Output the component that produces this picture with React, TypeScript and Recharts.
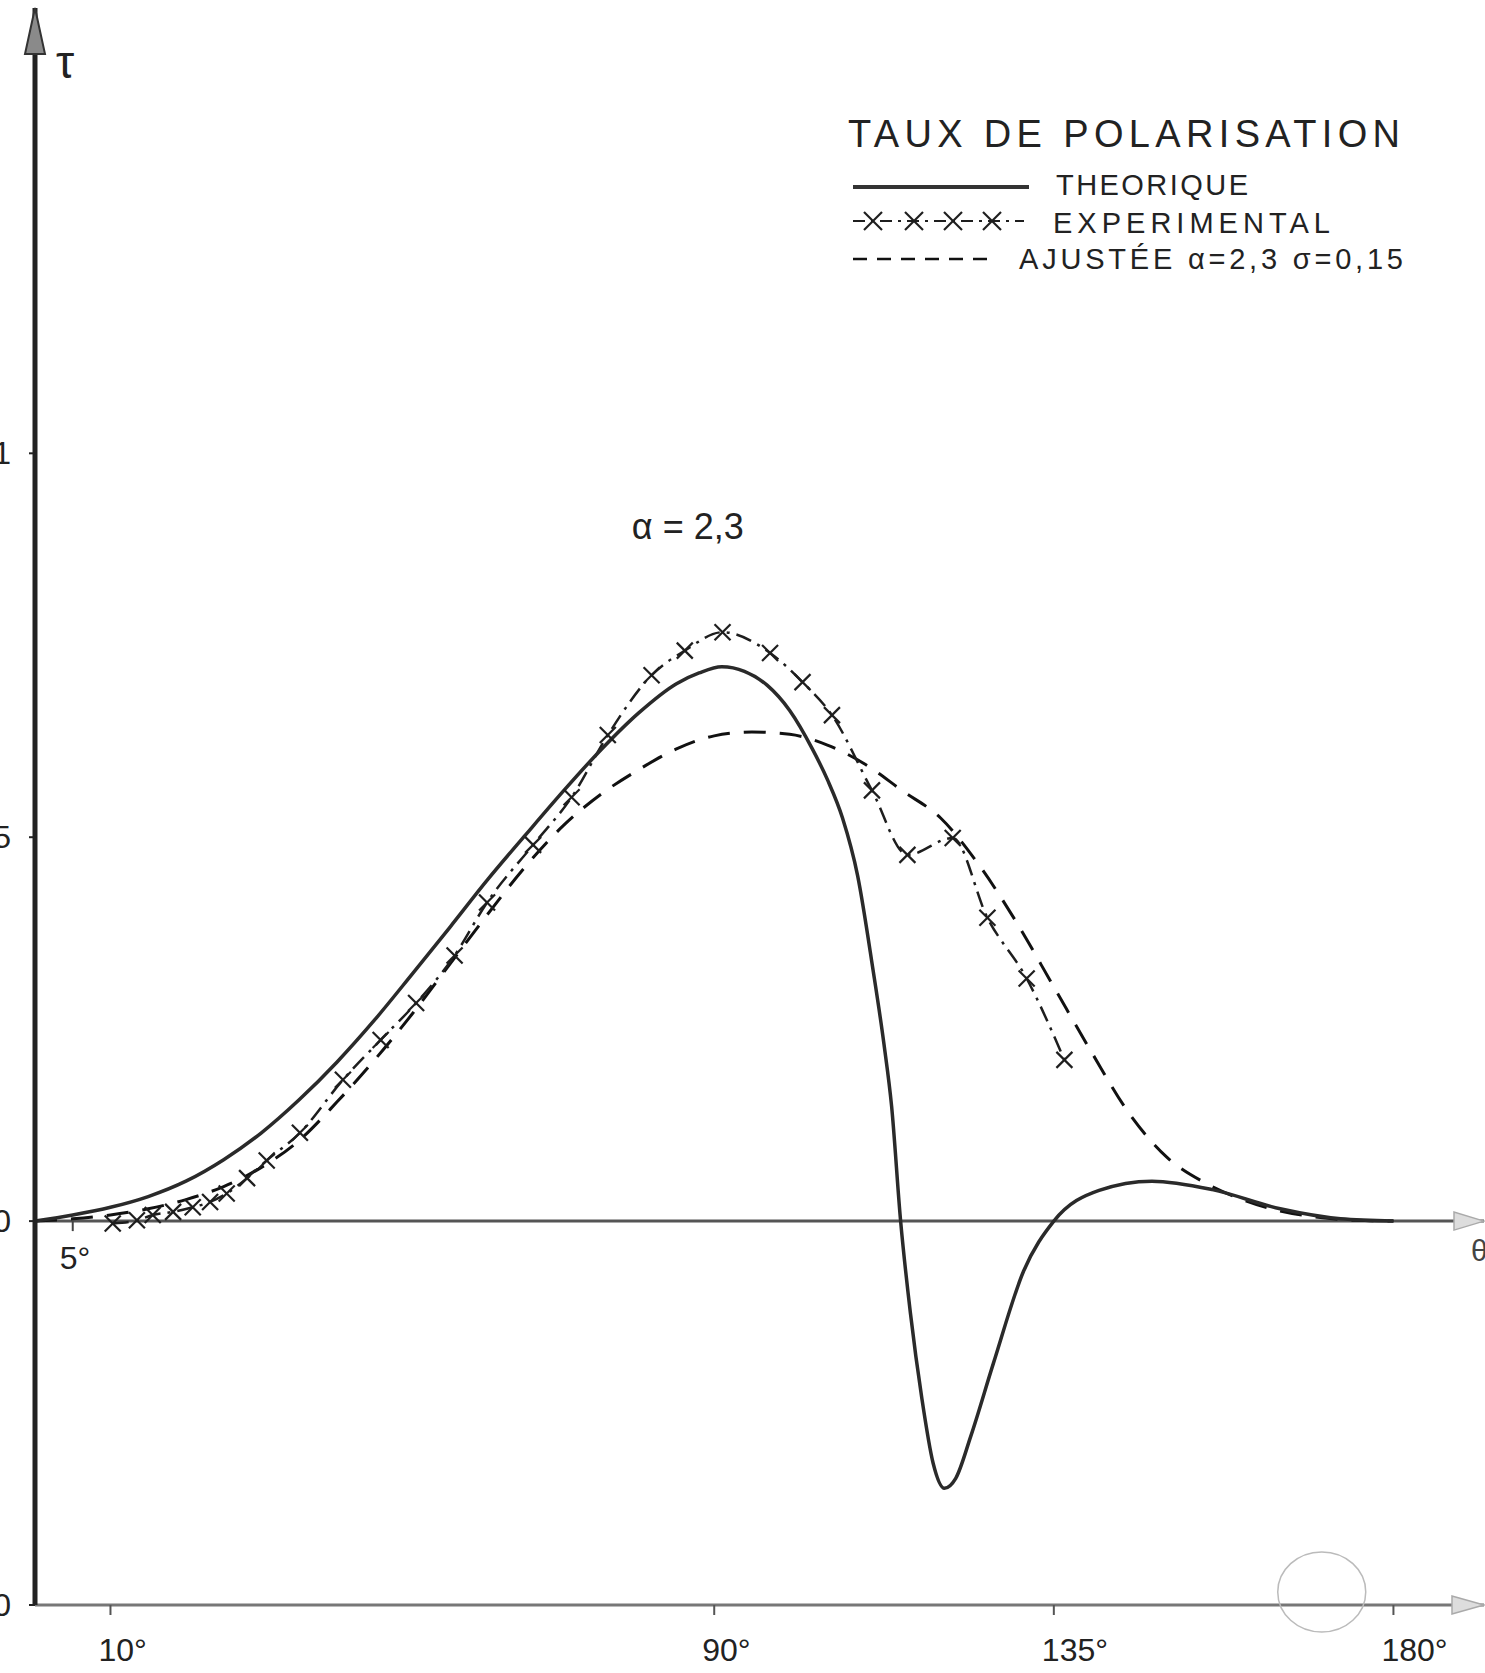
import React from "react";
import {
  ComposedChart,
  Line,
  XAxis,
  YAxis,
  ReferenceLine,
  ReferenceDot,
  Legend,
} from "recharts";

const FONT = "'Liberation Sans', Arial, sans-serif";
const INK = "#1e1e1e";

// axes
const thetaTicks = [10, 90, 135, 180];
const tauTicks = [-0.5, 0, 0.5, 1];
const tauTickLabels = ["0", "0", "0,5", "1"];

// courbe théorique (trait plein)
const theoTheta = [
  0, 5, 10, 15, 20, 25, 30, 35, 40, 45, 50, 55, 60, 65, 70, 75, 80, 85, 88, 91,
  94, 97, 100, 103, 105, 107, 109, 111, 112.5, 113.5, 114.7, 116, 117.5, 119,
  120.5, 122, 124, 127, 131, 135, 141, 148, 156, 165, 173, 180,
];
const theoTau = [
  0, 0.008, 0.018, 0.032, 0.052, 0.08, 0.115, 0.158, 0.207, 0.262, 0.322, 0.383,
  0.445, 0.503, 0.56, 0.614, 0.662, 0.7, 0.714, 0.722, 0.716, 0.698, 0.665, 0.615,
  0.575, 0.525, 0.45, 0.33, 0.23, 0.15, 0, -0.12, -0.23, -0.315, -0.348, -0.335,
  -0.28, -0.185, -0.065, 0, 0.04, 0.052, 0.041, 0.016, 0.003, 0,
];

// points expérimentaux (croix, trait mixte)
const expTheta = [
  10.3, 13.5, 15.6, 18.3, 20.9, 23.2, 25.4, 28.1, 30.7, 35.1, 40.8, 45.8, 50.5,
  55.6, 59.9, 66.0, 71.1, 75.9, 81.7, 86.1, 91.1, 97.4, 101.7, 105.6, 110.9,
  115.6, 121.6, 126.2, 131.4, 136.4,
];
const expTau = [
  -0.003, 0.001, 0.008, 0.012, 0.018, 0.025, 0.036, 0.056, 0.079, 0.115, 0.184,
  0.236, 0.284, 0.346, 0.415, 0.49, 0.552, 0.633, 0.711, 0.743, 0.767, 0.74,
  0.702, 0.659, 0.561, 0.477, 0.499, 0.395, 0.316, 0.21,
];

// courbe ajustée (tirets)
const fitTheta = [
  0, 5, 10, 15, 20, 25, 30, 35, 40, 45, 50, 55, 60, 65, 70, 75, 80, 85, 90, 95,
  100, 105, 110, 115, 120, 125, 130, 135, 140, 145, 150, 155, 160, 165, 170, 175,
  180,
];
const fitTau = [
  0, 0.003, 0.008, 0.016, 0.028, 0.045, 0.07, 0.105, 0.155, 0.21, 0.27, 0.335,
  0.4, 0.462, 0.515, 0.556, 0.588, 0.615, 0.632, 0.637, 0.634, 0.62, 0.595, 0.56,
  0.525, 0.465, 0.39, 0.305, 0.22, 0.14, 0.083, 0.05, 0.028, 0.013, 0.005, 0.001,
  0,
];

const legendTitle = "TAUX DE POLARISATION";
const legendNames = ["THEORIQUE", "EXPERIMENTAL", "AJUSTÉE α=2,3  σ=0,15"];
const curveNote = "α = 2,3";

const theo = theoTheta.map((t, i) => ({ theta: t, tau: theoTau[i] }));
const exp = expTheta.map((t, i) => ({ theta: t, tau: expTau[i] }));
const fit = fitTheta.map((t, i) => ({ theta: t, tau: fitTau[i] }));

function Cross({ cx, cy, size = 8 }: any) {
  if (cx == null || cy == null) return <g />;
  return (
    <g>
      <line x1={cx - size} y1={cy - size} x2={cx + size} y2={cy + size} stroke={INK} strokeWidth={2.2} strokeDasharray="none" />
      <line x1={cx - size} y1={cy + size} x2={cx + size} y2={cy - size} stroke={INK} strokeWidth={2.2} strokeDasharray="none" />
    </g>
  );
}

function ThetaTick({ x, y, payload }: any) {
  return (
    <text x={x - 12} y={y + 46} fontSize={32} fill="#222" fontFamily={FONT}>
      {`${payload.value}°`}
    </text>
  );
}

function TauTick({ x, y, payload }: any) {
  const label = tauTickLabels[tauTicks.indexOf(payload.value)];
  return (
    <text x={x} y={y} textAnchor="end" dominantBaseline="central" fontSize={32} fill="#222" fontFamily={FONT}>
      {label}
    </text>
  );
}

function LegendBox() {
  return (
    <svg width={600} height={200} style={{ overflow: "visible" }} fontFamily={FONT} fill="#222">
      <text x={8} y={52} fontSize={38} textLength={552} lengthAdjust="spacing">{legendTitle}</text>
      <line x1={13} y1={92} x2={189} y2={92} stroke="#333" strokeWidth={4} />
      <text x={216} y={100} fontSize={29} textLength={192} lengthAdjust="spacing">{legendNames[0]}</text>
      <line x1={13} y1={126} x2={184} y2={126} stroke={INK} strokeWidth={2} strokeDasharray="12 6 3 6" />
      {[33, 74, 113, 152].map((x) => (
        <Cross key={x} cx={x} cy={126} size={9} />
      ))}
      <text x={213} y={138} fontSize={29} textLength={277} lengthAdjust="spacing">{legendNames[1]}</text>
      <line x1={13} y1={164} x2={157} y2={164} stroke="#111" strokeWidth={2.5} strokeDasharray="14 10" />
      <text x={179} y={174} fontSize={29} textLength={384} lengthAdjust="spacing">{legendNames[2]}</text>
    </svg>
  );
}

export default function App() {
  return (
    <div style={{ position: "absolute", left: 0, top: 0, width: 1485, height: 1673, background: "#fff", fontFamily: FONT }}>
      <ComposedChart width={1485} height={1673} margin={{ top: 8, right: 1, bottom: 0, left: 0 }}>
        <XAxis
          type="number"
          dataKey="theta"
          domain={[0, 192]}
          ticks={thetaTicks}
          interval={0}
          allowDataOverflow
          height={68}
          axisLine={{ stroke: "#777", strokeWidth: 3 }}
          tickLine={{ stroke: "#555", strokeWidth: 2 }}
          tickSize={10}
          tickMargin={0}
          tick={<ThetaTick />}
        />
        <YAxis
          type="number"
          domain={[-0.5, 1.58]}
          ticks={tauTicks}
          interval={0}
          allowDataOverflow
          width={35}
          axisLine={{ stroke: "#222", strokeWidth: 5 }}
          tickLine={{ stroke: "#222", strokeWidth: 2 }}
          tickSize={6}
          tickMargin={18}
          tick={<TauTick />}
        />
        <ReferenceLine y={0} stroke="#555" strokeWidth={3} />

        {/* axis arrows and axis names */}
        <ReferenceDot
          x={0}
          y={1.58}
          r={0}
          shape={(p: any) => (
            <g>
              <polygon points={`${p.cx},${p.cy} ${p.cx - 10},${p.cy + 46} ${p.cx + 10},${p.cy + 46}`} fill="#8a8a8a" stroke="#333" strokeWidth={2} />
              <text x={p.cx + 30} y={p.cy + 70} fontSize={46} fill="#222" fontFamily={FONT} textAnchor="middle">τ</text>
            </g>
          )}
        />
        <ReferenceDot
          x={192}
          y={0}
          r={0}
          shape={(p: any) => (
            <polygon points={`${p.cx},${p.cy} ${p.cx - 30},${p.cy - 9} ${p.cx - 30},${p.cy + 9}`} fill="#ddd" stroke="#aaa" strokeWidth={1.5} />
          )}
        />
        <ReferenceDot
          x={192}
          y={-0.5}
          r={0}
          shape={(p: any) => (
            <polygon points={`${p.cx},${p.cy} ${p.cx - 32},${p.cy - 9} ${p.cx - 32},${p.cy + 9}`} fill="#ddd" stroke="#aaa" strokeWidth={1.5} />
          )}
        />
        <ReferenceDot
          x={190}
          y={0}
          r={0}
          shape={(p: any) => (
            <text x={p.cx + 2} y={p.cy + 40} fontSize={30} fill="#444" fontFamily={FONT}>θ</text>
          )}
        />
        <ReferenceDot
          x={5}
          y={0}
          r={0}
          shape={(p: any) => (
            <g>
              <line x1={p.cx} y1={p.cy} x2={p.cx} y2={p.cy + 10} stroke="#444" strokeWidth={2} />
              <text x={p.cx - 13} y={p.cy + 48} fontSize={32} fill="#222" fontFamily={FONT}>5°</text>
            </g>
          )}
        />
        <ReferenceDot
          x={86.5}
          y={0.905}
          r={0}
          shape={(p: any) => (
            <text x={p.cx} y={p.cy} textAnchor="middle" dominantBaseline="central" fontSize={36} fill="#222" fontFamily={FONT}>
              {curveNote}
            </text>
          )}
        />
        <ReferenceDot
          x={170.5}
          y={-0.483}
          r={0}
          shape={(p: any) => (
            <ellipse cx={p.cx} cy={p.cy} rx={44} ry={40} fill="none" stroke="#bbb" strokeWidth={1.5} />
          )}
        />

        <Line data={fit} dataKey="tau" type="monotone" stroke="#111" strokeWidth={3} strokeDasharray="22 14" dot={false} isAnimationActive={false} />
        <Line data={exp} dataKey="tau" type="monotone" stroke={INK} strokeWidth={2.5} strokeDasharray="16 7 3 7" dot={<Cross />} isAnimationActive={false} />
        <Line data={theo} dataKey="tau" type="monotone" stroke="#2a2a2a" strokeWidth={3.5} dot={false} isAnimationActive={false} />

        <Legend
          layout="vertical"
          align="center"
          verticalAlign="middle"
          content={<LegendBox />}
          wrapperStyle={{ position: "absolute", left: 840, top: 95, width: 600, height: 200 }}
        />
      </ComposedChart>
    </div>
  );
}
